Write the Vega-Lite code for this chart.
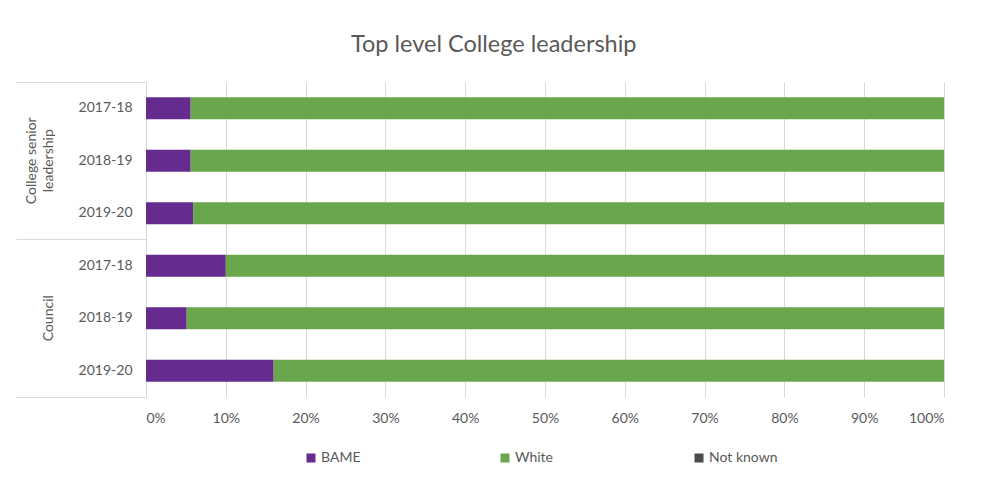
{
  "$schema": "https://vega.github.io/schema/vega-lite/v6.json",
  "autosize": {"type": "none"},
  "padding": {"left": 146, "top": 82, "right": 43, "bottom": 85},
  "width": 798,
  "height": 315,
  "background": "white",
  "title": {
    "text": "Top level College leadership",
    "font": "Lato",
    "fontSize": 23.5,
    "fontWeight": "normal",
    "color": "#595959",
    "anchor": "middle",
    "frame": "bounds",
    "baseline": "alphabetic",
    "offset": 6,
    "dx": 14
  },
  "data": {
    "values": [
      {"group": "College senior leadership", "year": "2017-18", "row": "College senior leadership 2017-18", "ethnicity": "BAME", "value": 5.6},
      {"group": "College senior leadership", "year": "2017-18", "row": "College senior leadership 2017-18", "ethnicity": "White", "value": 94.4},
      {"group": "College senior leadership", "year": "2017-18", "row": "College senior leadership 2017-18", "ethnicity": "Not known", "value": 0},
      {"group": "College senior leadership", "year": "2018-19", "row": "College senior leadership 2018-19", "ethnicity": "BAME", "value": 5.6},
      {"group": "College senior leadership", "year": "2018-19", "row": "College senior leadership 2018-19", "ethnicity": "White", "value": 94.4},
      {"group": "College senior leadership", "year": "2018-19", "row": "College senior leadership 2018-19", "ethnicity": "Not known", "value": 0},
      {"group": "College senior leadership", "year": "2019-20", "row": "College senior leadership 2019-20", "ethnicity": "BAME", "value": 5.9},
      {"group": "College senior leadership", "year": "2019-20", "row": "College senior leadership 2019-20", "ethnicity": "White", "value": 94.1},
      {"group": "College senior leadership", "year": "2019-20", "row": "College senior leadership 2019-20", "ethnicity": "Not known", "value": 0},
      {"group": "Council", "year": "2017-18", "row": "Council 2017-18", "ethnicity": "BAME", "value": 10},
      {"group": "Council", "year": "2017-18", "row": "Council 2017-18", "ethnicity": "White", "value": 90},
      {"group": "Council", "year": "2017-18", "row": "Council 2017-18", "ethnicity": "Not known", "value": 0},
      {"group": "Council", "year": "2018-19", "row": "Council 2018-19", "ethnicity": "BAME", "value": 5.1},
      {"group": "Council", "year": "2018-19", "row": "Council 2018-19", "ethnicity": "White", "value": 94.9},
      {"group": "Council", "year": "2018-19", "row": "Council 2018-19", "ethnicity": "Not known", "value": 0},
      {"group": "Council", "year": "2019-20", "row": "Council 2019-20", "ethnicity": "BAME", "value": 16},
      {"group": "Council", "year": "2019-20", "row": "Council 2019-20", "ethnicity": "White", "value": 84},
      {"group": "Council", "year": "2019-20", "row": "Council 2019-20", "ethnicity": "Not known", "value": 0}
    ]
  },
  "layer": [
    {
      "mark": {"type": "bar"},
      "encoding": {
        "y": {
          "field": "row",
          "type": "nominal",
          "sort": null,
          "scale": {"paddingInner": 0.58, "paddingOuter": 0.29},
          "axis": {
            "orient": "left",
            "title": null,
            "ticks": false,
            "domain": true,
            "domainColor": "#d9d9d9",
            "domainWidth": 1,
            "labelExpr": "slice(datum.label, -7)",
            "labelPadding": 14,
            "labelFont": "Lato",
            "labelFontSize": 14,
            "labelColor": "#595959"
          }
        },
        "x": {
          "field": "value",
          "type": "quantitative",
          "stack": "normalize",
          "scale": {"domain": [0, 1]},
          "axis": {
            "title": null,
            "values": [0, 0.1, 0.2, 0.3, 0.4, 0.5, 0.6, 0.7, 0.8, 0.9, 1],
            "format": ".0%",
            "grid": true,
            "gridColor": "#d9d9d9",
            "domain": false,
            "ticks": false,
            "labelPadding": 14,
            "labelFont": "Lato",
            "labelFontSize": 14,
            "labelColor": "#595959"
          }
        },
        "color": {
          "field": "ethnicity",
          "type": "nominal",
          "scale": {"domain": ["BAME", "White", "Not known"], "range": ["#652b8e", "#69a64c", "#4a4a4a"]},
          "legend": {
            "title": null,
            "orient": "none",
            "direction": "horizontal",
            "legendX": 158,
            "legendY": 369,
            "padding": 0,
            "gridAlign": "all",
            "columnPadding": 108,
            "symbolType": "square",
            "symbolSize": 81,
            "symbolStrokeWidth": 0,
            "symbolOpacity": 1,
            "labelOffset": 3,
            "labelFont": "Lato",
            "labelFontSize": 14,
            "labelColor": "#595959"
          }
        }
      }
    },
    {
      "mark": {"type": "point", "opacity": 0},
      "encoding": {
        "y": {
          "field": "group",
          "type": "nominal",
          "sort": null,
          "scale": {"type": "band", "paddingInner": 0, "paddingOuter": 0},
          "axis": {
            "orient": "left",
            "title": null,
            "domain": false,
            "ticks": true,
            "bandPosition": 0,
            "tickSize": 130,
            "tickColor": "#d9d9d9",
            "labelAngle": 270,
            "labelAlign": "center",
            "labelBaseline": "bottom",
            "labelPadding": -22,
            "labelLineHeight": 17,
            "labelExpr": "datum.label == 'College senior leadership' ? ['College senior', 'leadership'] : ['', datum.label]",
            "labelFont": "Lato",
            "labelFontSize": 14,
            "labelColor": "#595959",
            "labelBound": false,
            "labelOverlap": false
          }
        }
      }
    },
    {
      "mark": {"type": "point", "opacity": 0},
      "encoding": {
        "y": {
          "field": "group",
          "type": "nominal",
          "sort": null,
          "scale": {"type": "band", "paddingInner": 0, "paddingOuter": 0},
          "axis": {
            "orient": "left",
            "title": null,
            "domain": false,
            "ticks": true,
            "labels": false,
            "values": ["Council"],
            "bandPosition": 1,
            "tickSize": 130,
            "tickColor": "#d9d9d9"
          }
        }
      }
    }
  ],
  "resolve": {"scale": {"y": "independent"}, "axis": {"y": "independent"}},
  "config": {
    "view": {"stroke": null}
  }
}
